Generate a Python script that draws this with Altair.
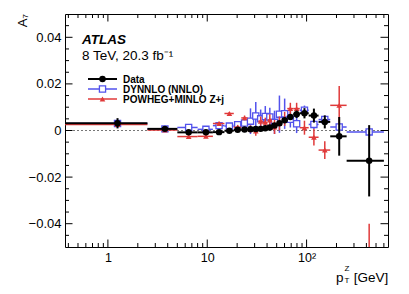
import altair as alt
import pandas as pd

# ---- data ----
edges = [0, 2.5, 5, 8, 11.4, 14.9, 18.5, 22, 25.5, 29, 32.6, 36.4, 40.4, 44.9,
         50.2, 56.4, 63.9, 73.4, 85.4, 105, 132, 173, 253, 600]
centers = [1.25, 3.75, 6.5, 9.7, 13.15, 16.7, 20.25, 23.75, 27.25, 30.8, 34.5,
           38.4, 42.65, 47.55, 53.3, 60.15, 68.65, 79.4, 95.2, 118.5, 152.5, 213, 426.5]

data_val = [0.0031, 0.0007, -0.0008, -0.0008, -0.0007, -0.0001, 0.0003, 0.0004,
            0.0005, 0.0006, 0.0007, 0.0010, 0.0013, 0.0021, 0.0031, 0.0044, 0.0058,
            0.0070, 0.0074, 0.0064, 0.0037, -0.0025, -0.0130]
data_err = [0.0022, 0.0008, 0.0007, 0.0007, 0.0007, 0.0007, 0.0007, 0.0007, 0.0007,
            0.0008, 0.0008, 0.0008, 0.0009, 0.0009, 0.0010, 0.0011, 0.0013, 0.0016,
            0.0022, 0.0030, 0.0028, 0.0083, 0.0153]

dyn_val = [0.0030, 0.0007, 0.0013, 0.0005, 0.0021, 0.0019, 0.0025, 0.0032, 0.0040,
           0.0062, 0.0050, 0.0060, 0.0058, 0.0035, 0.0070, 0.0072, 0.0048, 0.0029,
           0.0087, 0.0026, 0.0047, 0.0015, -0.0006]
dyn_err = [0.0003, 0.0004, 0.0006, 0.0005, 0.0008, 0.0010, 0.0015, 0.0020, 0.0055,
           0.0060, 0.0040, 0.0045, 0.0040, 0.0050, 0.0080, 0.0065, 0.0035, 0.0040,
           0.0020, 0.0020, 0.0015, 0.0010, 0.0005]

pow_val = [0.0026, 0.0002, -0.0026, -0.0025, 0.0030, 0.0073, 0.0014, 0.0054, 0.0007,
           -0.0002, 0.0040, 0.0035, 0.0045, 0.0015, 0.0030, 0.0050, 0.0094, 0.0094,
           0.0012, -0.0029, -0.0084, 0.0108, -0.0700]
pow_err = [0.0003, 0.0004, 0.0008, 0.0007, 0.0008, 0.0006, 0.0010, 0.0010, 0.0015,
           0.0020, 0.0020, 0.0020, 0.0025, 0.0030, 0.0030, 0.0030, 0.0025, 0.0025,
           0.0030, 0.0035, 0.0038, 0.0083, 0.0300]

y_major = [-0.04, -0.02, 0, 0.02, 0.04]
y_minor = [-0.045, -0.035, -0.03, -0.025, -0.015, -0.01, -0.005,
           0.005, 0.01, 0.015, 0.025, 0.03, 0.035, 0.045]
x_major = [1, 10, 100]
x_minor = [0.4, 0.5, 0.6, 0.7, 0.8, 0.9, 2, 3, 4, 5, 6, 7, 8, 9,
           20, 30, 40, 50, 60, 70, 80, 90, 200, 300, 400, 500, 600]

series = [
    ("Data", "black"),
    ("DYNNLO (NNLO)", "#5252ec"),
    ("POWHEG+MINLO Z+j", "#e03a3a"),
]

# ---- layout ----
XMIN, XMAX = 0.37, 660
YMIN, YMAX = -0.05, 0.05
W, H = 323, 233
FONT = "Liberation Sans"

xscale = alt.Scale(type="log", domain=[XMIN, XMAX], nice=False)
yscale = alt.Scale(domain=[YMIN, YMAX], nice=False, zero=False)

X_AXIS = alt.Axis(values=x_major, labelExpr="datum.value == 100 ? '10²' : datum.value == 10 ? '10' : '1'",
                  ticks=False, domain=False, grid=False, labelFontSize=12.5, labelFont=FONT,
                  labelColor="black", labelPadding=4, labelFlush=False, labelOverlap=False, title=None)
Y_AXIS = alt.Axis(values=y_major, labelExpr="datum.value == 0 ? '0' : format(datum.value, '.2f')",
                  ticks=False, domain=False, grid=False, labelFontSize=13, labelFont=FONT,
                  labelColor="black", labelPadding=4, labelFlush=False, labelOverlap=False, title=None)


def X(f):
    return alt.X(f, type="quantitative", scale=xscale, axis=X_AXIS)


def Y(f):
    return alt.Y(f, type="quantitative", scale=yscale, axis=Y_AXIS)


def table(vals, errs):
    return pd.DataFrame({
        "lo": [max(e, XMIN) for e in edges[:-1]],
        "hi": edges[1:],
        "x": centers,
        "y": vals,
        "ylo": [v - e for v, e in zip(vals, errs)],
        "yhi": [v + e for v, e in zip(vals, errs)],
    })


layers = []

# zero reference line
layers.append(
    alt.Chart(pd.DataFrame({"z": [0]})).mark_rule(color="#777777", strokeWidth=1, strokeDash=[2, 2])
    .encode(y=Y("z"), x=alt.value(0), x2=alt.value(W))
)

marker = {
    "Data": dict(shape="circle", filled=True, size=42, opacity=1),
    "DYNNLO (NNLO)": dict(shape="square", filled=False, size=38, strokeWidth=1.3, fill="white", opacity=1),
    "POWHEG+MINLO Z+j": dict(shape="triangle-up", filled=True, size=32, opacity=1),
}
width = {"Data": 2, "DYNNLO (NNLO)": 1.5, "POWHEG+MINLO Z+j": 1.5}
vals = {"Data": (data_val, data_err), "DYNNLO (NNLO)": (dyn_val, dyn_err),
        "POWHEG+MINLO Z+j": (pow_val, pow_err)}

for name in ["DYNNLO (NNLO)", "POWHEG+MINLO Z+j", "Data"]:
    color = dict(series)[name]
    df = table(*vals[name])
    base = alt.Chart(df)
    layers.append(base.mark_rule(color=color, strokeWidth=width[name], clip=True)
                  .encode(x=X("lo"), x2="hi", y=Y("y")))
    layers.append(base.mark_rule(color=color, strokeWidth=width[name], clip=True)
                  .encode(x=X("x"), y=Y("ylo"), y2="yhi"))
    layers.append(base.mark_point(color=color, clip=True, **marker[name])
                  .encode(x=X("x"), y=Y("y")))

# inward ticks on all four sides
for vals_, L in [(y_major, 7.5), (y_minor, 4)]:
    d = alt.Chart(pd.DataFrame({"v": vals_}))
    layers.append(d.mark_rule(color="black", strokeWidth=1).encode(y=Y("v"), x=alt.value(0), x2=alt.value(L)))
    layers.append(d.mark_rule(color="black", strokeWidth=1).encode(y=Y("v"), x=alt.value(W - L), x2=alt.value(W)))
for vals_, L in [(x_major, 7.5), (x_minor, 4)]:
    d = alt.Chart(pd.DataFrame({"v": vals_}))
    layers.append(d.mark_rule(color="black", strokeWidth=1).encode(x=X("v"), y=alt.value(H - L), y2=alt.value(H)))
    layers.append(d.mark_rule(color="black", strokeWidth=1).encode(x=X("v"), y=alt.value(0), y2=alt.value(L)))

# legend
leg_y = [65, 75, 85]
for (name, color), ly in zip(series, leg_y):
    d = alt.Chart(pd.DataFrame({"t": [name]}))
    layers.append(d.mark_rule(color=color, strokeWidth=width[name])
                  .encode(x=alt.value(23), x2=alt.value(52), y=alt.value(ly)))
    layers.append(d.mark_point(color=color, **marker[name]).encode(x=alt.value(37.5), y=alt.value(ly)))
    layers.append(d.mark_text(align="left", baseline="middle", font=FONT, fontSize=10,
                              fontWeight="bold", color="black")
                  .encode(x=alt.value(58), y=alt.value(ly + 0.5), text="t:N"))


def label(text, x, y, **kw):
    return (alt.Chart(pd.DataFrame({"t": [text]}))
            .mark_text(font=FONT, color="black", **kw)
            .encode(x=alt.value(x), y=alt.value(y), text="t:N"))


layers.append(label("ATLAS", 17, 29.5, align="left", baseline="alphabetic", fontSize=13.5,
                    fontWeight="bold", fontStyle="italic"))
layers.append(label("8 TeV, 20.3 fb⁻¹", 17, 46, align="left", baseline="alphabetic", fontSize=13.5))
layers.append(label("A₇", -38, 0, align="right", baseline="alphabetic", fontSize=13, angle=270))
layers.append(label("p", 278.5, 267.7, align="right", baseline="alphabetic", fontSize=13.5))
layers.append(label("Z", 279.5, 256.5, align="left", baseline="alphabetic", fontSize=8))
layers.append(label("T", 279.5, 269.3, align="left", baseline="alphabetic", fontSize=8))
layers.append(label("[GeV]", 323.3, 267.7, align="right", baseline="alphabetic", fontSize=13.5))

chart = (
    alt.layer(*layers)
    .properties(width=W, height=H, autosize=alt.AutoSizeParams(type="none"),
                padding={"left": 57, "top": 6, "right": 13, "bottom": 38})
    .configure_view(stroke="black", strokeWidth=1)
)

chart.save("out.html", embed_options={"renderer": "svg", "actions": False})
